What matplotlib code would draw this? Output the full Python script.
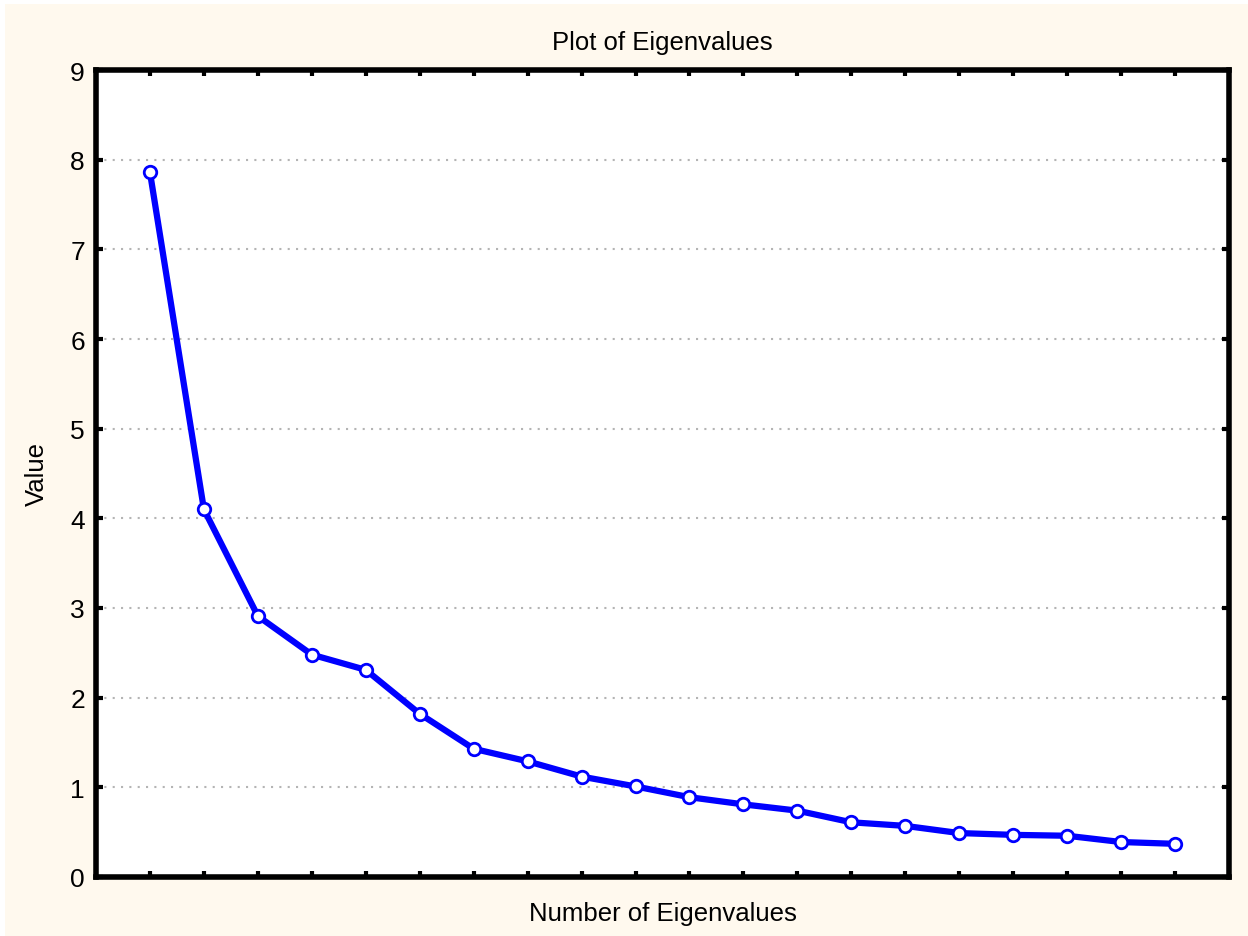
import matplotlib
matplotlib.use("Agg")
import matplotlib.pyplot as plt
from matplotlib.patches import Rectangle

# eigenvalues
numbers = list(range(1, 21))
values = [7.86, 4.10, 2.91, 2.48, 2.31, 1.82, 1.43, 1.29, 1.12, 1.01,
          0.89, 0.81, 0.74, 0.61, 0.57, 0.49, 0.47, 0.46, 0.39, 0.37]
yticks = list(range(0, 10))

plt.rcParams['font.family'] = ['Liberation Sans', 'DejaVu Sans']

fig = plt.figure(figsize=(12.48, 9.37), dpi=100)
fig.patch.set_facecolor('white')
# cream panel, white strip only along top and left edge
fig.patches.append(Rectangle((5 / 1248, 0), 1 - 5 / 1248, 1 - 5 / 937,
                             transform=fig.transFigure, facecolor='#fff9ee',
                             edgecolor='none', zorder=-1))

ax = fig.add_axes([96 / 1248, 1 - 878 / 937, (1229 - 96) / 1248, (878 - 71) / 937])
ax.set_facecolor('white')

ax.plot(numbers, values, color='#0000ff', lw=4.5, marker='o', ms=9,
        mfc='white', mec='#0000ff', mew=2, zorder=3, clip_on=False)

ax.set_xlim(0, 21)
ax.set_ylim(0, 9)
ax.set_xticks(numbers)
ax.set_xticklabels([])
ax.set_yticks(yticks)
ax.tick_params(axis='both', direction='in', length=5, width=3,
               top=True, right=True, labelsize=19, pad=8)
ax.tick_params(axis='x', length=4)

for s in ax.spines.values():
    s.set_linewidth(4)

ax.yaxis.grid(True, linestyle=(0, (1, 3)), color='#b4b4b4', lw=1.5)
ax.set_axisbelow(True)

ax.set_title('Plot of Eigenvalues', fontsize=18.5, pad=15)
ax.set_xlabel('Number of Eigenvalues', fontsize=18.5, labelpad=9)
ax.set_ylabel('Value', fontsize=18.5, labelpad=15)

fig.savefig('out.png', dpi=100, facecolor=fig.get_facecolor())
